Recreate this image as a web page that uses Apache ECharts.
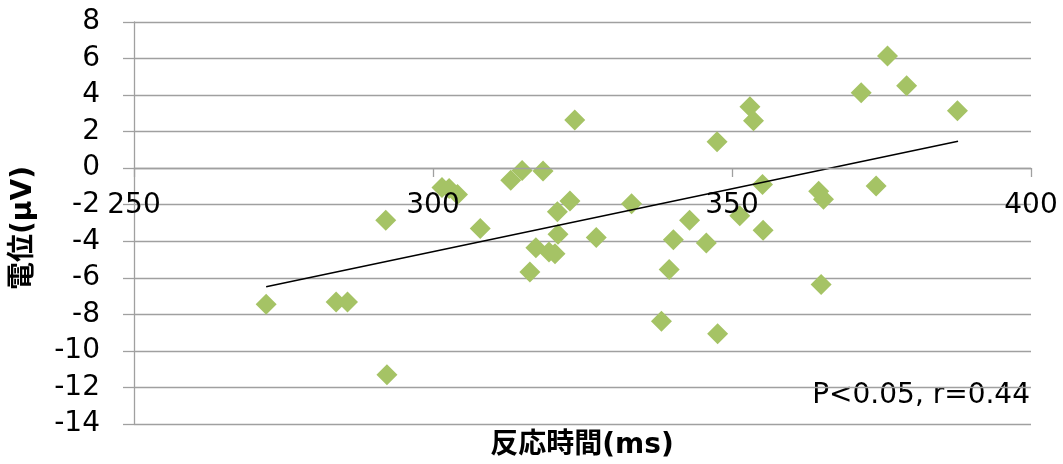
<!DOCTYPE html>
<html>
<head>
<meta charset="utf-8">
<script src="https://cdn.jsdelivr.net/npm/echarts@6/dist/echarts.min.js"></script>
<style>
  html, body { margin: 0; padding: 0; background: #fff; }
  #chart { width: 1063px; height: 464px; }
</style>
</head>
<body>
<div id="chart"></div>
<script>
// 反応時間 (ms)
var reactionTimes = [
  272.1, 283.8, 285.7, 292.1, 292.3,
  301.5, 302.7, 304.1, 307.9, 313.0, 314.9, 318.4, 323.7, 322.9, 320.8,
  320.9, 327.3, 317.2, 319.4, 320.4, 316.2,
  333.2, 347.5, 353.0, 353.6, 355.1, 342.9, 340.2, 345.7, 339.5, 338.2,
  347.6, 351.3, 355.2,
  376.0, 371.6, 379.2, 387.7, 364.5, 365.3, 374.1, 364.9
];
// 電位 (μV)
var potentials = [
  -7.45, -7.33, -7.33, -2.85, -11.30,
  -1.06, -1.11, -1.44, -3.30, -0.66, -0.13, -0.15, 2.63, -1.79, -2.39,
  -3.62, -3.80, -4.35, -4.59, -4.68, -5.68,
  -1.94, 1.44, 3.36, 2.59, -0.89, -2.85, -3.91, -4.09, -5.55, -8.38,
  -9.06, -2.60, -3.40,
  6.14, 4.13, 4.51, 3.14, -1.26, -1.70, -0.97, -6.36
];
// trend line ends
var trendX = [272.1, 387.8];
var trendY = [-6.49, 1.47];

var xTicks = [250, 300, 350, 400];
var yTicks = [-14, -12, -10, -8, -6, -4, -2, 0, 2, 4, 6, 8];

var points = reactionTimes.map(function (t, i) { return [t, potentials[i]]; });
var trend = trendX.map(function (t, i) { return [t, trendY[i]]; });

var font = 'DejaVu Sans, Verdana, Noto Sans CJK JP, sans-serif';
var gridColor = '#a0a0a0';

var chart = echarts.init(document.getElementById('chart'));
chart.setOption({
  animation: false,
  grid: { left: 134, right: 32, top: 22, bottom: 40 },
  xAxis: {
    type: 'value',
    min: xTicks[0],
    max: xTicks[xTicks.length - 1],
    interval: 50,
    z: 5,
    // x axis crosses at y = 0 (pixel 168 of 22..424)
    offset: -256,
    axisLine: { onZero: false, lineStyle: { color: gridColor, width: 1.3 } },
    axisTick: { show: true, inside: false, length: 9, lineStyle: { color: gridColor, width: 1.3 } },
    axisLabel: { color: '#000', fontSize: 28, fontFamily: font, margin: 24 },
    splitLine: { show: false }
  },
  yAxis: {
    type: 'value',
    min: yTicks[0],
    max: yTicks[yTicks.length - 1],
    interval: 2,
    axisLine: { show: true, onZero: false, lineStyle: { color: gridColor, width: 1.3 } },
    axisTick: { show: true, inside: false, length: 11, lineStyle: { color: gridColor, width: 1.3 } },
    axisLabel: { color: '#000', fontSize: 28, fontFamily: font, margin: 34 },
    splitLine: { show: true, lineStyle: { color: gridColor, width: 1.3 } }
  },
  series: [
    {
      type: 'scatter',
      symbol: 'diamond',
      symbolSize: [21, 21],
      itemStyle: { color: '#a5c365', opacity: 1 },
      data: points,
      z: 2
    },
    {
      type: 'line',
      symbol: 'none',
      lineStyle: { color: '#000', width: 1.5 },
      data: trend,
      z: 3
    }
  ],
  graphic: [
    {
      type: 'text',
      x: 582, y: 446,
      style: {
        text: '反応時間(ms)', fill: '#000', fontSize: 28, fontWeight: 'bold',
        fontFamily: font, textAlign: 'center', textVerticalAlign: 'middle'
      }
    },
    {
      type: 'text',
      x: 24, y: 228, rotation: Math.PI / 2,
      style: {
        text: '電位(μV)', fill: '#000', fontSize: 28, fontWeight: 'bold',
        fontFamily: font, textAlign: 'center', textVerticalAlign: 'middle'
      }
    },
    {
      type: 'text',
      x: 1030, y: 396,
      style: {
        text: 'P<0.05, r=0.44', fill: '#000', fontSize: 28,
        fontFamily: font, textAlign: 'right', textVerticalAlign: 'middle'
      }
    }
  ]
});
</script>
</body>
</html>
